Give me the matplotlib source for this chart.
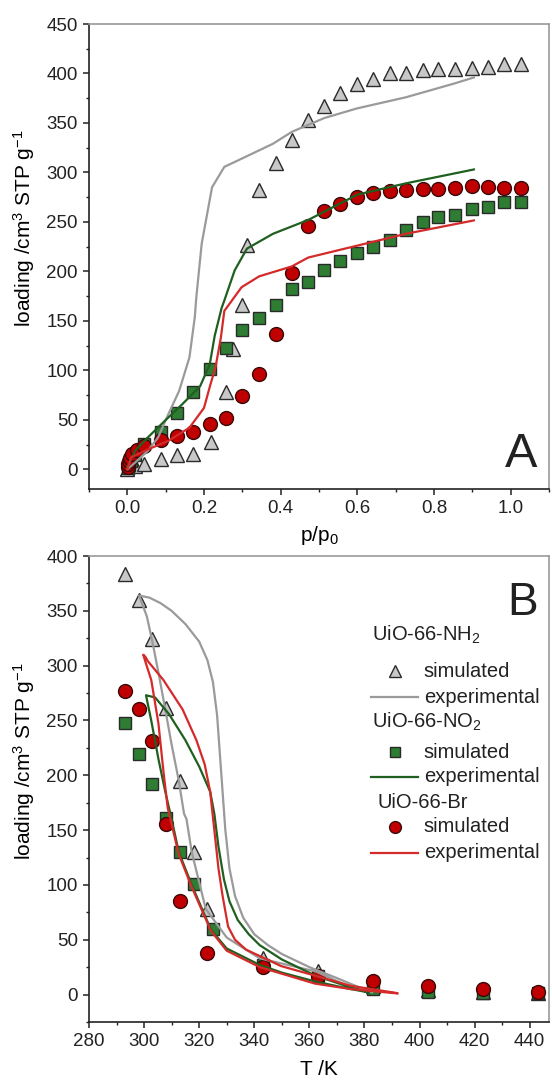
import matplotlib
matplotlib.use("Agg")
import matplotlib.pyplot as plt
from matplotlib.ticker import MultipleLocator

plt.rcParams['font.family'] = ['Liberation Sans', 'DejaVu Sans']
plt.rcParams['mathtext.fontset'] = 'custom'
plt.rcParams['mathtext.rm'] = 'Liberation Sans'
plt.rcParams['mathtext.it'] = 'Liberation Sans:italic'
plt.rcParams['mathtext.default'] = 'regular'

# ---------------- Panel A data ----------------
nh2_sim_p = [0.0, 0.02, 0.044, 0.089, 0.13, 0.171, 0.217, 0.258, 0.276, 0.298, 0.312, 0.344, 0.387,
             0.429, 0.472, 0.514, 0.556, 0.599, 0.642, 0.684, 0.727, 0.77, 0.81, 0.854, 0.90,
             0.94, 0.982, 1.027]
nh2_sim_q = [0, 3, 5.7, 10, 14.5, 15.8, 28, 77.6, 121.6, 166, 227, 282, 310,
             333, 353, 367, 380, 389, 394, 400, 400, 404, 405, 405, 406, 407, 410, 410]

no2_sim_p = [0.001, 0.005, 0.01, 0.02, 0.044, 0.089, 0.13, 0.171, 0.216, 0.258, 0.298, 0.344,
             0.387, 0.429, 0.472, 0.514, 0.556, 0.599, 0.642, 0.684, 0.727, 0.77, 0.81, 0.854,
             0.90, 0.94, 0.982, 1.027]
no2_sim_q = [1, 4, 8, 14, 26, 38, 56.7, 78.3, 101.3, 122.6, 140.8, 152.6,
             166.5, 182, 189, 201.6, 210.3, 218.8, 224.5, 232, 241.5, 250, 255, 256.6,
             262.7, 265, 270, 270]

br_sim_p = [0.001, 0.003, 0.005, 0.008, 0.013, 0.024, 0.044, 0.089, 0.13, 0.171, 0.216, 0.258,
            0.298, 0.344, 0.387, 0.429, 0.472, 0.514, 0.556, 0.599, 0.642, 0.684, 0.727, 0.77,
            0.81, 0.854, 0.90, 0.94, 0.982, 1.027]
br_sim_q = [2, 5, 8.4, 11.8, 15.8, 19.3, 23.6, 29.4, 33.7, 38, 45.6, 51.7,
            74.3, 96.2, 136.8, 198, 245.5, 261, 268.5, 275, 279, 281, 282, 283,
            283.6, 284, 286, 285, 284, 284.3]

nh2_exp_p = [0, 0.02, 0.053, 0.08, 0.107, 0.135, 0.162, 0.176, 0.18, 0.194, 0.221, 0.253,
             0.308, 0.38, 0.429, 0.514, 0.599, 0.727, 0.854, 0.904]
nh2_exp_q = [0, 6.7, 18.5, 32, 55.7, 79, 113, 153.6, 174, 228, 285, 305.6,
             315.7, 329, 341, 355, 364.7, 376, 390, 396]

no2_exp_p = [0, 0.02, 0.053, 0.098, 0.144, 0.19, 0.215, 0.228, 0.246, 0.253, 0.28, 0.312,
             0.38, 0.472, 0.6, 0.727, 0.904]
no2_exp_q = [2, 18.5, 32, 49, 66, 84, 106, 135, 163, 170.5, 201, 223,
             238, 252, 277.6, 289, 303]

br_exp_p = [0, 0.01, 0.053, 0.107, 0.162, 0.2, 0.217, 0.23, 0.244, 0.253, 0.298, 0.344,
            0.429, 0.472, 0.727, 0.904]
br_exp_q = [0, 12, 20, 28.7, 42, 62, 86, 103, 133, 160, 184, 195,
            205, 214, 238, 251.5]

# ---------------- Panel B data ----------------
nh2_sim_T = [293, 298, 303, 308, 313, 318, 323, 343, 363, 383, 403, 423, 443]
nh2_sim_L = [384, 359.5, 324.7, 261, 195, 130, 77.7, 33, 21.6, 8, 4, 2, 1]

no2_sim_T = [293, 298, 303, 308, 313, 318, 325, 343, 363, 383, 403, 423, 443]
no2_sim_L = [248, 219, 192, 161, 130, 100.5, 59.5, 27, 17, 5, 2.5, 1.5, 1]

br_sim_T = [293, 298, 303, 308, 313, 323, 343, 363, 383, 403, 423, 443]
br_sim_L = [277, 260.5, 231.4, 156, 85, 38, 24.7, 17, 12, 8, 5, 2.5]

# experimental loops: tail -> inner branch -> top -> outer branch -> tail
nh2_exp_T = [382.8, 375, 362.4, 342, 330, 322.4, 317.3, 315.4, 314.5, 312.6, 310, 307.7, 305.5,
             303, 301, 298.2,
             302, 306, 310, 315, 320, 323, 325, 326.5, 327.5, 328.5, 329.5, 331, 333, 336,
             340, 345, 350, 360, 370, 381.5]
nh2_exp_L = [2, 6.5, 21, 33, 52, 78, 130, 160, 165, 195, 228, 260, 290,
             322, 345, 364,
             362, 357, 350, 338, 322, 305, 285, 255, 220, 185, 150, 115, 90, 70,
             55, 45, 37, 25, 15, 3]

no2_exp_T = [381.5, 375, 362, 350, 342, 330, 324.3, 317.3, 312.6, 310, 307.7, 305.2, 302.6,
             300.7,
             304, 309, 315, 320, 324, 325.5, 327, 329, 331, 334, 338, 342, 350, 362.4, 375, 381.5]
no2_exp_L = [2, 5, 12, 20, 27, 42, 59, 100, 130, 160, 185, 215, 250,
             273,
             271, 256, 232, 208, 185, 165, 135, 105, 85, 68, 55, 45, 32, 17, 6.5, 2]

br_exp_T = [392, 375, 362, 342, 330, 324.3, 317.3, 312.6, 310.5, 308.6, 307.1, 305.2, 302.6,
            300.3, 299.7, 300.5,
            301.4, 307, 314, 319, 322, 324, 325.5, 327, 328.5, 330.5, 333, 337, 349.7, 362.4,
            375, 391.7]
br_exp_L = [1, 5, 10, 25, 40, 58, 98, 128, 150, 170, 202, 247.5, 287,
            305, 310, 308,
            304, 287, 260, 232, 210, 185, 150, 115, 90, 62, 50, 41, 26, 17,
            8, 1.4]

legend_groups = ['UiO-66-NH$_2$', 'UiO-66-NO$_2$', 'UiO-66-Br']
legend_items = ['simulated', 'experimental']

# ---------------- styles ----------------
c_grey_face, c_grey_line = '#c8c8c8', '#9a9a9a'
c_green_face, c_green_line = '#2e7d32', '#1f5f1f'
c_red_face, c_red_line = '#c00000', '#d42a2a'
edge = '#2a2a2a'

fig = plt.figure(figsize=(5.52, 10.82), dpi=100)
axA = fig.add_axes([0.1612, 0.548, 0.8334, 0.4298])
axB = fig.add_axes([0.1612, 0.0555, 0.8334, 0.4306])

def style(ax):
    for s in ['left', 'bottom']:
        ax.spines[s].set_color('#222222')
        ax.spines[s].set_linewidth(1.2)
    for s in ['top', 'right']:
        ax.spines[s].set_color('#9a9a9a')
        ax.spines[s].set_linewidth(1.2)
    ax.tick_params(which='both', direction='out', top=False, right=False,
                   colors='#222222', labelcolor='#222222', labelsize=13.5)
    ax.tick_params(which='major', length=4.5, width=1.1)
    ax.tick_params(which='minor', length=2.5, width=1.0)

# ---- Panel A ----
axA.plot(nh2_sim_p, nh2_sim_q, linestyle='none', marker='^', ms=10.5,
         mfc=c_grey_face, mec=edge, mew=1.0, zorder=3)
axA.plot(no2_sim_p, no2_sim_q, linestyle='none', marker='s', ms=8.5,
         mfc=c_green_face, mec=edge, mew=1.0, zorder=3)
axA.plot(br_sim_p, br_sim_q, linestyle='none', marker='o', ms=10,
         mfc=c_red_face, mec='#3a0a0a', mew=1.0, zorder=3)
axA.plot(nh2_exp_p, nh2_exp_q, color=c_grey_line, lw=1.6, zorder=4)
axA.plot(no2_exp_p, no2_exp_q, color=c_green_line, lw=1.6, zorder=4)
axA.plot(br_exp_p, br_exp_q, color=c_red_line, lw=1.6, zorder=4)

axA.set_xlim(-0.1, 1.1)
axA.set_ylim(-20, 450)
axA.xaxis.set_minor_locator(MultipleLocator(0.1))
axA.yaxis.set_minor_locator(MultipleLocator(25))
axA.set_xticks([0.0, 0.2, 0.4, 0.6, 0.8, 1.0])
axA.set_xticklabels(['0.0', '0.2', '0.4', '0.6', '0.8', '1.0'])
axA.set_yticks(range(0, 451, 50))
style(axA)
axA.set_xlabel('p/p$_0$', fontsize=15)
axA.set_ylabel('loading /cm$^3$ STP g$^{-1}$', fontsize=15)
axA.xaxis.set_label_coords(0.5, -0.1)
axA.xaxis.label.set_va('center')
axA.yaxis.set_label_coords(-0.141, 0.56)
axA.yaxis.label.set_va('center')
axA.text(0.940, 0.047, 'A', transform=axA.transAxes, fontsize=35,
         ha='center', va='baseline', color='#222222')

# ---- Panel B ----
axB.plot(nh2_sim_T, nh2_sim_L, linestyle='none', marker='^', ms=10.5,
         mfc=c_grey_face, mec=edge, mew=1.0, zorder=3)
axB.plot(no2_sim_T, no2_sim_L, linestyle='none', marker='s', ms=8.5,
         mfc=c_green_face, mec=edge, mew=1.0, zorder=3)
axB.plot(br_sim_T, br_sim_L, linestyle='none', marker='o', ms=10,
         mfc=c_red_face, mec='#3a0a0a', mew=1.0, zorder=3)
axB.plot(nh2_exp_T, nh2_exp_L, color=c_grey_line, lw=1.6, zorder=4)
axB.plot(no2_exp_T, no2_exp_L, color=c_green_line, lw=1.6, zorder=4)
axB.plot(br_exp_T, br_exp_L, color=c_red_line, lw=1.6, zorder=4)

axB.set_xlim(280, 447)
axB.set_ylim(-25, 400)
axB.set_xticks(range(280, 441, 20))
axB.xaxis.set_minor_locator(MultipleLocator(10))
axB.set_yticks(range(0, 401, 50))
axB.yaxis.set_minor_locator(MultipleLocator(25))
style(axB)
axB.set_xlabel('T /K', fontsize=15)
axB.set_ylabel('loading /cm$^3$ STP g$^{-1}$', fontsize=15)
axB.xaxis.set_label_coords(0.5, -0.103)
axB.xaxis.label.set_va('center')
axB.yaxis.set_label_coords(-0.141, 0.56)
axB.yaxis.label.set_va('center')
axB.text(0.943, 0.873, 'B', transform=axB.transAxes, fontsize=33,
         ha='center', va='baseline', color='#222222')

# ---- manual legend in panel B ----
header_x = [0.615, 0.615, 0.628]
rows_y = [(0.830, 0.753, 0.697), (0.644, 0.579, 0.526), (0.472, 0.419, 0.363)]
mk = [('^', c_grey_face, edge, 8.5, c_grey_line),
      ('s', c_green_face, edge, 6.5, c_green_line),
      ('o', c_red_face, '#3a0a0a', 8.5, c_red_line)]
for g, name in enumerate(legend_groups):
    yh, ys, ye = rows_y[g]
    m, fc, ec, ms, lc = mk[g]
    axB.text(header_x[g], yh, name, transform=axB.transAxes, fontsize=14.5,
             ha='left', va='center', color='#222222')
    axB.plot([0.665], [ys], transform=axB.transAxes, linestyle='none', marker=m,
             ms=ms, mfc=fc, mec=ec, mew=1.0, clip_on=False)
    axB.text(0.728, ys, legend_items[0], transform=axB.transAxes, fontsize=14.5,
             ha='left', va='center', color='#222222')
    axB.plot([0.613, 0.715], [ye, ye], transform=axB.transAxes, color=lc, lw=1.6,
             clip_on=False)
    axB.text(0.728, ye, legend_items[1], transform=axB.transAxes, fontsize=14.5,
             ha='left', va='center', color='#222222')

fig.savefig('out.png', dpi=100)
